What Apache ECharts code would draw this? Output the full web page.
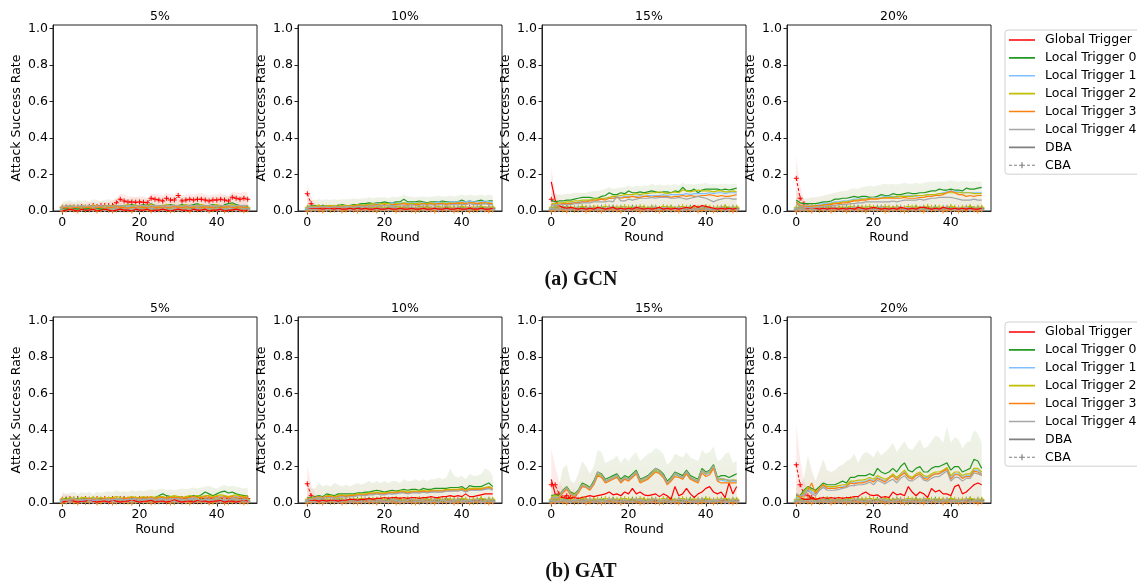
<!DOCTYPE html>
<html>
<head>
<meta charset="utf-8">
<script src="https://cdn.jsdelivr.net/npm/echarts@6/dist/echarts.min.js"></script>
<style>
  html, body { margin: 0; padding: 0; background: #fff; }
  #chart { width: 1137px; height: 586px; }
</style>
</head>
<body>
<div id="chart"></div>
<script>
// tick labels / names
const triggerNames = ['Global Trigger', 'Local Trigger 0', 'Local Trigger 1', 'Local Trigger 2', 'Local Trigger 3', 'Local Trigger 4']
const xTicks = [0, 20, 40]
const yTicks = [0, 0.2, 0.4, 0.6, 0.8, 1.0]
const rateTitles = ['5%', '10%', '15%', '20%']
const captions = ['(a) GCN', '(b) GAT']

// all values below are attack success rate in percent, rounds 0..48

// near-zero CBA local-trigger traces (read as rough jitter at the bottom of each panel)
const z1 = [1,2,1,1,2,1,0.5,1,2,1, 1,1.5,1,2,1,1,2,1,0.5,1, 1,2,1,1,1.5,1,2,1,1,0.5, 1,2,1,1,1.5,1,2,1,1,1, 2,1,1,0.5,1,2,1,1,1.5]
const z2 = [0.5,1,1.5,1,0.5,1,1,2,1,0.5, 1,1,0.5,1.5,1,0.5,1,1,2,1, 0.5,1,1,1.5,0.5,1,1,0.5,1,2, 1,0.5,1,1,0.5,1.5,1,1,0.5,1, 1,1.5,0.5,1,1,0.5,1,2,1]
const z3 = [2,1.5,2,2.5,1.5,2,2,1.5,2.5,2, 1.5,2,2,1.5,2.5,2,1.5,2,2,2.5, 2,1.5,2,2.5,2,1.5,2,2,1.5,2.5, 2,2,1.5,2,2.5,2,1.5,2,2,1.5, 2.5,2,1.5,2,2,2.5,1.5,2,2]
const z4 = [0,0.5,1,0.5,0,1,0.5,0.5,1,0, 0.5,1,0.5,0,0.5,1,0.5,0.5,0,1, 0.5,0.5,1,0,0.5,0.5,1,0.5,0,0.5, 1,0.5,0.5,0,1,0.5,0.5,1,0,0.5, 0.5,1,0,0.5,0.5,1,0.5,0,0.5]
const z5 = [1.5,1,1,2,1.5,1,1.5,1,1,1.5, 2,1,1.5,1,1,2,1.5,1,1,1.5, 1,1,2,1.5,1,1,1.5,2,1,1, 1.5,1,1,2,1,1.5,1,1,1.5,2, 1,1,1.5,1,2,1,1,1.5,1]

// ---- GCN 5% ----
const gcn5CbaG = [2,2,2,2,2,2.5,2,2.5,3,2.5, 3,3,3,3,4.5,6.5,5.5,5,5,4.8, 5,4.8,4.5,7,6.5,6,5.5,7,6,6, 8.5,5.5,6,6.5,6,6.5,6.5,6,5.5,6, 6,6.5,6,5.5,7.5,7,6.5,7,6.5]
const gcn5Lt0 = [1.5,1,2,1.5,1,2,1,1.5,2,1.5, 1,1.5,2,2.5,3,3,2.5,3,3.5,3, 3,3.5,3,4,3,3,2.5,3,3.5,3, 3,3.5,3,3,3.5,4,3,2.5,3,3.5, 3,2,3.5,4,4.5,3.5,3,2,2.5]
const gcn5Lt1 = [2,2.5,2,2,2.5,2,2.5,2,2,2.5, 2,2,2.5,2,2.5,2.5,2,2.5,2.5,2, 2.5,2.5,2,2.5,2.5,3,2.5,2.5,3,2.5, 2.5,3,2.5,2.5,3,2.5,3,2.5,2.5,3, 2.5,3,2.5,3,2.5,3,2.5,2.5,3]
const gcn5Lt2 = [2.5,2,3,2.5,2,3,2.5,2,3,2.5, 2,3,2.5,3,2.5,2,3,3.5,2.5,3, 3,2.5,3,3.5,3,2.5,3,3.5,3,3, 2.5,3,3.5,3,2.5,3,3.5,3,2.5,3, 3.5,3,2.5,3,3.5,3,2.5,3,3]
const gcn5Lt3 = [1.5,2,1.5,2,2,1.5,2,2,1.5,2, 2,1.5,2,2,2.5,2,2,1.5,2,2, 2.5,2,2,2.5,2,2,2.5,2,2,2.5, 2,2,2.5,2,2,2.5,2,2.5,2,2, 2.5,2,2,2.5,2,2,2.5,2,2]
const gcn5Lt4 = [2.5,2.5,3,2.5,2.5,3,2.5,3,2.5,2.5, 3,2.5,3,2.5,3,3,2.5,3,3,2.5, 3,3,2.5,3,3,3,2.5,3,3,3, 3,2.5,3,3,3,2.5,3,3,3,3, 2.5,3,3,3,2.5,3,3,3,3]
const gcn5Env = [5,5.5,6,5,6,5.5,6,5,6.5,6, 5.5,6,6.5,6,7,6.5,7,6.5,7,7.5, 7,6.5,7,8,7.5,7,8,7.5,7,8, 7.5,8,7.5,7,8,8.5,7.5,8,7.5,8, 8,7.5,8.5,8,9,8.5,8,8.5,8]
const gcn5RedEnv = [4,4,4.5,4,4,4.5,4,5,5,4.5, 5,5,5,5.5,7,9.5,9,8,8,7.5, 8,8,7,9.5,9.5,9,8.5,10,9,9, 11,8.5,9,9.5,9,9.5,10,9,8.5,9, 9,10,9,8.5,10.5,10,10,10.5,10]

// ---- GCN 10% ----
const gcn10CbaG = [9.5,4,1.5,1.5,2,1.5,1,1.5,2,1.5, 1.5,1,1.5,2,1.5,1,1.5,1,2,1.5, 1,1.5,2,1.5,1,2,1.5,1,1.5,1, 1.5,2,1,1.5,1,1.5,2,1,1.5,1, 1.5,1,2,1.5,1,1.5,1,2,1.5]
const gcn10DbaG = [2,1.5,1.5,1.5,1,1.5,1.5,1,1.5,1, 1,1.5,1,1.5,1,1.5,1,1,1.5,1, 1,1.5,1,1,1.5,1,1,1.5,1,1, 1.5,1,1,1.5,1,1,1.5,1,1,1.5, 1,1,1.5,1,1,1.5,1,1,1.5]
const gcn10Lt0 = [2.5,2.5,3,2.5,3,2.5,3,2.5,3,3.5, 3,3,3.5,3.5,4,4,4.5,4,4.5,4.5, 5,4.5,4.5,5,5,6.5,5,5,5,5.5, 5,4.5,5,5,5,5.5,5,5,5,5, 6,5,5.5,5,5.5,6,5,5.5,5.5]
const gcn10Lt1 = [2,2.5,2,2.5,2,2.5,2,2.5,2.5,3, 2.5,3,3,3,3,3.5,3.5,3.5,4,4, 4,4,4.5,4,4.5,4.5,4.5,4,4.5,4.5, 4.5,4,4.5,4.5,5,4.5,4.5,5,5,5, 5,5,5.5,5,5,5,5.5,5,5]
const gcn10Lt2 = [2.5,2,2.5,3,2.5,2.5,3,3,2.5,3, 3,3,3,3.5,3,3.5,3.5,4,3.5,4, 4,4,3.5,4,4,4.5,4,4,4,4.5, 4,4,4.5,4,4,4.5,4,4.5,4,4, 4.5,4,4.5,4.5,4,4.5,4,4.5,4]
const gcn10Lt3 = [2,2,2,2.5,2,2,2.5,2,2.5,2, 2.5,2.5,2.5,3,2.5,3,3,3,3.5,3, 3.5,3,3.5,3.5,3.5,4,3.5,3.5,3.5,3.5, 4,3.5,4,3.5,4,4,3.5,4,4,4.5, 4.5,4,4.5,4.5,4,4.5,4.5,4,4]
const gcn10Lt4 = [2,2,2,2,2.5,2,2,2.5,2,2, 2.5,2.5,2,2.5,2.5,2.5,3,2.5,3,3, 3,3,3,3,3.5,3,3,3.5,3,3, 3.5,3,3.5,3,3.5,3.5,3,3.5,3.5,3.5, 3.5,3.5,4,3.5,3.5,3.5,4,3.5,3.5]
const gcn10Env = [7,6,6,6.5,6,6.5,6,6.5,6,6.5, 6.5,6.5,7,6.5,7,7,7.5,7,7.5,7.5, 7.5,7,8,7.5,8,9,8,8,7.5,8, 8,7.5,8,8,8.5,8,8,8.5,8,8.5, 9,8.5,9,8.5,8.5,9,8.5,9,8.5]
const gcn10RedEnv = [15,8,4,3]

// ---- GCN 15% ----
const gcn15CbaG = [6.5,3,2,1.5,2,1.5,1,1.5,1,1.5, 1,1.5,1,1.5,1,1,1.5,1,1.5,1, 1,1.5,1,1,1.5,1,1,1.5,1,1, 1.5,1,1,1.5,1,1,1.5,1,1,1.5, 1,1,1.5,1,1,1.5,1,1,1.5]
const gcn15DbaG = [16,6,3,2,1.5,2,1.5,1,1.5,1, 1.5,1,2,1.5,1,1.5,2,1,1.5,1, 1.5,1,2,1.5,1,1.5,1,1.5,2,1, 1.5,1,1.5,1,1.5,2,1.5,3,2,3, 2.5,2,1.5,1,1.5,1,1.5,1,1.5]
const gcn15Lt0 = [6,5,5.5,5.5,6,6,6.5,7,7.5,7.5, 7.5,7,7,8,8.5,10,9,9,10,9.5, 11,10,10,10.5,10,10.5,11,10.5,10,10.5, 10.5,10,11,10.5,13,11,11,12,10,11.5, 12,12,12,12,11.5,12,11.5,12,12.5]
const gcn15Lt1 = [3,3.5,3.5,4,4,4.5,4.5,5,5,5.5, 6,6,6,6.5,7,7,7,7.5,7.5,8, 8,8,8,8.5,8,8.5,8.5,8.5,8.5,9, 8.5,9,9,9,9,9.5,9,9.5,9.5,9.5, 9.5,10,9.5,10,10,9.5,10,10,10]
const gcn15Lt2 = [4,4,4.5,4.5,5,5,5.5,5.5,6,6, 6,6.5,6.5,7,7,7.5,8,8,8.5,9, 9,9,9.5,9,9.5,9.5,10,10,10.5,10, 9.5,10,10.5,10,11.5,11,10.5,11,11.5,11, 11,11,10.5,11,11,10.5,10.5,11,10.5]
const gcn15Lt3 = [3.5,3,3.5,4,4,4,4.5,4.5,5,5, 5.5,5.5,6,6.5,6,7,7,7.5,7,7.5, 7.5,8,7.5,7.5,8,8,7.5,8,8,8, 8,7.5,8,8,8.5,8,8.5,8,8,8.5, 8.5,9,8.5,8,8.5,8,8,8.5,9]
const gcn15Lt4 = [3,3,3.5,3.5,3.5,3.5,4,4,4.5,4.5, 4.5,5,5,5,5,5.5,5,8,5.5,5.5, 6.5,6,6.5,7,7,7,7.5,7,7.5,7.5, 7.5,7,7,7.5,7,6.5,7,7.5,8,7.5, 7,6,5,6,6.5,7,7,6.5,6.5]
const gcn15Env = [10,9,9,9,9.5,9.5,10,10,10,10, 10.5,11,11,11.5,12,13,12,12.5,13,13, 14,13,14,13.5,14,14,15,14,14.5,14, 14.5,14,15,14,15.5,14.5,15,14.5,15,15, 15.5,14.5,15,14.5,15,15,14.5,15,15]
const gcn15RedEnv = [24,10,5,3]

// ---- GCN 20% ----
const gcn20CbaG = [18,7,4,3,2,1.5,2,1.5,1,1.5, 1,1.5,1,1.5,1,1.5,1,1.5,1,1, 1.5,1,1.5,1,1,1.5,1,1,1.5,1, 1,1.5,1,1,2,1,1.5,1,1,1.5, 1,1,1.5,1,1,1.5,1,1,1.5]
const gcn20DbaG = [5,3,2,1.5,2,1.5,1,1.5,1,1.5, 1.5,1,1.5,1,1.5,1,2,1.5,1,1.5, 2,1.5,1,1.5,1,1.5,1,2,1.5,1, 1.5,1,2,2,1.5,1,1.5,1,2,1.5, 1,1.5,1,1.5,1,1.5,1,1,1.5]
const gcn20Lt0 = [6,4.5,4,4,4,4,4.5,5,5,5.5, 6.5,6.5,7,7,7.5,8,7.5,8,8,7.5, 7.5,8,9,8.5,8.5,9.5,9,9,9.5,10, 9.5,9.5,10,10,10.5,11,11,12,11.5,11.5, 12,11.5,11.5,11,12.5,12,12,12.5,13]
const gcn20Lt1 = [5,3,3,3,3,3,3.5,4,4,4.5, 5,5,5.5,5.5,6,6.5,6.5,7,7,7, 7.5,7,7.5,8,8,8,7.5,8,8,8.5, 8.5,8,8.5,8.5,9,9,9,9.5,10,10.5, 11,10.5,10.5,10,10,10,10,10,10]
const gcn20Lt2 = [5,3,2.5,2.5,2.5,3,3,3.5,3.5,4, 4.5,4.5,5,5,5.5,6,6,6.5,6.5,7, 7,7,7,7.5,7.5,7.5,8,8,8,8, 8,8.5,8.5,8.5,9,9,9,9.5,9.5,10, 10,10,10,10,10,10,9.5,9.5,9.5]
const gcn20Lt3 = [4.5,3,2.5,2.5,2.5,3,3,3,3.5,3.5, 4,4,4.5,4.5,5,5.5,5.5,6,6,6.5, 6.5,6.5,7,7,7,7,7,7,7.5,7, 7,7,7.5,7.5,8,8,8.5,8.5,9,10, 11,10,9,9,8,8.5,8,8.5,8.5]
const gcn20Lt4 = [4,2.5,2,2,2,2,2.5,2.5,3,3, 3,3.5,3.5,3.5,4,4,4.5,4.5,5,5, 5,5,5,5,5,5.5,5,5.5,6,6, 6,6,6.5,6,6.5,7,7,7.5,7.5,7.5, 7.5,7,6.5,6,6,6,6.5,6,6]
const gcn20Env = [12,8,7,7,7.5,7.5,8,8.5,9,9.5, 10,10.5,11,11,12,12.5,12,13,13.5,14, 13.5,14,14.5,15,14.5,15,14.5,15,15.5,15, 15,15.5,15,15.5,16,16,16,16.5,16,16.5, 17,16.5,16,16.5,16.5,16,16.5,16,16]
const gcn20RedEnv = [30,14,6,4]

// ---- GAT 5% ----
const gat5CbaG = [2,2,2.5,2,2.5,2,2.5,2,2,2.5, 2,2.5,2,2.5,2,2.5,2.5,2,2.5,2, 2.5,2,2.5,2.5,2,2.5,2.5,3,2.5,2.5, 2,2.5,2.5,2,2.5,3,2.5,2,2.5,2.5, 2,2.5,3,2.5,2,2.5,2.5,2,2.5]
const gat5Lt0 = [2,2.5,2,2,2.5,2,2.5,2,2.5,2, 2.5,2,2.5,2.5,2,2.5,2,2.5,2.5,3, 2.5,3,2.5,3,3,4,5,4,3.5,3, 3.5,3,3,3.5,4,3.5,4.5,6,5,4, 5,6,6.5,5.5,6,5,4.5,4,4]
const gat5Lt1 = [1.5,2,1.5,2,2,1.5,2,2,1.5,2, 2,2,2.5,2,2,2.5,2,2.5,2,2.5, 2.5,2,2.5,2.5,3,2.5,2.5,3,2.5,3, 2.5,3,3,2.5,3,3,3.5,3,3,3.5, 3,3.5,3,3.5,3,3.5,3,3.5,3]
const gat5Lt2 = [2.5,2,3,2.5,2,3,3,2.5,3,2.5, 3,2.5,3,3,3.5,3,2.5,3,3.5,3, 3,3.5,3,3.5,3,3.5,3.5,3,3.5,4, 3.5,3,3.5,4,3.5,4,3.5,4,4,3.5, 4,4.5,4,3.5,4,4.5,4,3.5,4]
const gat5Lt3 = [2,1.5,2,2,1.5,2,2,2.5,2,2, 2,2.5,2,2.5,2.5,2,2.5,2.5,3,2.5, 2.5,3,2.5,3,2.5,3,3,2.5,3,3, 3,2.5,3,3,3.5,3,3,3.5,3,3, 3.5,3,3.5,3,3.5,3,3.5,3,3]
const gat5Env = [6,5,5.5,6,5,6,5.5,6,5,6, 5.5,6,6.5,6,7,6,6.5,6,7,6.5, 7,6.5,7,7.5,7,7.5,8,7,7.5,7, 7.5,8,7.5,8,8.5,8,8.5,9,9.5,8.5, 8,9,10,9,9.5,9,8.5,8,8.5]
const gat5RedEnv = [5,4.5,4]

// ---- GAT 10% ----
const gat10CbaG = [10.5,4,2,1.5,2,1.5,1,1.5,2,1, 1.5,1,1.5,2,1,1.5,1,1.5,1,1.5, 1,1.5,1,2,1.5,1,1.5,1,1.5,1, 1.5,1,1.5,1,1.5,1,2,1.5,1,1.5, 1,1.5,1,1.5,1,1.5,1,1.5,1]
const gat10DbaG = [2,1.5,1.5,1,1.5,1,1.5,1.5,1,1.5, 1.5,2,2,1.5,2,2,2.5,2,2.5,2.5, 3,2.5,3,3,2.5,3,2.5,3,3,2.5, 3,3,3.5,3,3,3.5,3.5,4,3.5,4, 3.5,5,3.5,3.5,4,4.5,5,5,5]
const gat10Lt0 = [3,3,3.5,4,3.5,5,4.5,4,5,5, 5,5,5,5.5,5.5,6,6,6.5,7,6.5, 6,6.5,7,6.5,7,7.5,7,7.5,7.5,7, 8,7.5,7.5,8,8,8,8,8.5,8.5,8.5, 9,7.5,9.5,9,9,9,10,11,9]
const gat10Lt1 = [2.5,2.5,3,3,3,3.5,3.5,3,3.5,3.5, 3.5,4,4,4,4.5,4.5,5,5,5.5,5, 5,5.5,5,5.5,5.5,6,5.5,6,6,5.5, 6,6,6,6.5,6,6.5,6.5,6.5,7,7, 7,6,7,7,7,7.5,7.5,8,7.5]
const gat10Lt2 = [2.5,2.5,3,3.5,3,4,4,3.5,4,4.5, 4,4.5,4.5,5,5,5,5.5,5.5,6,5.5, 5.5,6,6,6,6.5,6.5,6,6.5,6.5,6.5, 7,6.5,7,7,7,7,7.5,7.5,7.5,7.5, 8,7,8,8,8,8,8.5,9,8]
const gat10Lt3 = [2.5,2,3,3.5,3,3.5,3.5,3,3.5,4, 3.5,4,4,4.5,4.5,4.5,5,5,5.5,5, 5,5.5,5.5,5.5,6,6,5.5,6,6,6, 6.5,6,6.5,6.5,6.5,6.5,7,7,7,7, 7.5,6.5,7.5,7.5,7.5,7.5,8,8.5,7.5]
const gat10Lt4 = [2,2,2.5,3,2.5,3,3,2.5,3,3.5, 3,3.5,3.5,4,4,4,4.5,4.5,5,4.5, 4.5,5,5,5,5.5,5.5,5,5.5,5.5,5.5, 6,5.5,6,6,6,6,6.5,6.5,6.5,6.5, 7,6,7,7,7,7,7.5,8,7]
const gat10Env = [11,8,8,11,9,10,9,11,10,9, 10,9,10,11,10,11,12,11,12,11, 12,11,12,12,11,13,12,12,13,12, 13,12,13,13,14,13,14,19,15,14, 15,13,16,15,15,16,19,18,15]
const gat10RedEnv = [20,10,5,3]

// ---- GAT 15% ----
const gat15CbaG = [10,10,5,3,4,3,4,1.5,1,1.5, 1,1.5,1,1.5,1,1,1.5,1,1.5,1, 1,1.5,1,1,1.5,1,1,1.5,1,1, 1.5,1,1,1.5,1,1,1.5,1,1,1.5, 1,1,1.5,1,1,1.5,1,1,1.5]
const gat15DbaG = [13,5,4,3,2.5,2.5,3,2.5,3,3.5, 4,3.5,4,4.5,5,6,4.5,5,4,6, 5,8,5,6,4.5,4,4.5,5,3.5,5, 4,2,9,4,5,8,5,3,5,6, 8,9,6,5,6,3,11,5,9]
const gat15Lt0 = [4,4.5,4,7,9,6,5,7,11,10, 8.5,12,17,16,13,14,15,16,13,15, 14,16,18,13,14,15,17,19,18,16, 12,14,17,16,15,18,15,14,13,19, 17,18,21,14,15,15,14,15,16]
const gat15Lt1 = [3,3.5,3,6,8,5,4,6,9.5,9, 7.5,10.5,15.5,14.5,11.5,12.5,13.5,14.5,11.5,13.5, 12.5,14.5,16.5,11.5,12.5,13.5,15.5,17.5,16.5,14.5, 10.5,12.5,15.5,14.5,13.5,16.5,13.5,12.5,11.5,17.5, 15.5,16.5,19.5,12.5,12.5,12,12,12,12]
const gat15Lt2 = [3.5,4,3.5,6.5,8.5,5.5,4.5,6.5,10,9.5, 8,11,16,15,12,13,14,15,12,14, 13,15,17,12,13,14,16,18,17,15, 11,13,16,15,14,17,14,13,12,18, 16,17,20,13,13,13,12,12.5,12.5]
const gat15Lt3 = [2.5,3,2.5,5.5,7.5,4.5,3.5,5.5,9,8.5, 7,10,15,14,11,12,13,14,11,13, 12,14,16,11,12,13,15,17,16,14, 10,12,14.5,14,13,16,13,12,11,16.5, 14.5,15.5,19,12,11,11,11,11,11]
const gat15Lt4 = [3,3,3,6.5,8.5,5,4,6.5,10,9, 8,11,17,15.5,12,13,14,15.5,12,14, 13,15,17,12.5,13.5,14.5,16.5,19,17.5,15, 11,13,16.5,15,14,17.5,14,13,12,18, 16.5,17.5,20.5,13,13.5,13,12.5,12.5,12]
const gat15Env = [12,10,9,19,21,12,11,16,23,20, 16,20,29,28,22,23,24,26,22,25, 23,26,28,23,25,27,28,30,29,27, 21,23,27,26,25,28,25,24,23,29, 27,28,31,23,24,27,28,22,23]
const gat15RedEnv = [30,20,12,8,9,6,8]

// ---- GAT 20% ----
const gat20CbaG = [21,10,5,4,3,2,1.5,2,1.5,1, 1.5,1,1.5,1,1,1.5,1,1.5,1,1, 1.5,1,1.5,1,1,1.5,1,1,1.5,1, 1,1.5,1,1,1.5,1,1,1.5,1,1, 1.5,1,1.5,1,1,1.5,1,1,1.5]
const gat20DbaG = [5,3,2,2,2.5,2,2.5,3,2.5,3, 2.5,3,2.5,3,3,3.5,3.5,5,6,4.5, 4,4.5,3,3.5,3,6,4.5,5,4,9, 6,4,6,5,3,8,6,7,5,5, 4,9,10,5,6,8,10,11,10]
const gat20Lt0 = [4,4,7,9,8,7,9,11,10,10, 10,11,12,11,14,14,15,15,15,16, 15,19,17,16,17,19,17,20,22,18, 17,19,20,17,17,19,20,20,21,22, 18,20,20,17,18,19,24,23,19]
const gat20Lt1 = [3,3,5,8,6,5,7,9,8,8, 8,8.5,9,9.5,11,11,11.5,11.5,12,13, 12,14,13,12,14,15,13,15,17,14, 13.5,15,16,14,14,15,16,16,17,19, 14,16,16,14,15,15,18,18,16]
const gat20Lt2 = [3.5,3.5,6,8.5,7,6,8,10,9,9, 9,9.5,10,10,12,12,12.5,12.5,13,14, 13,15,14,13,14,16,14,16,18,15, 14,16,17,15,14.5,16,17,17,18,19.5, 15,17,17,15,16,16,19,19,17]
const gat20Lt3 = [5,3,4,7,11,5,8,10,8,8, 8,8.5,8.5,9,11,10.5,11,11,11.5,12.5, 11.5,13.5,12.5,11.5,13.5,15,12.5,15,16.5,14, 13,15,16,13.5,13,15,16,16,17.5,18.5, 13,15.5,15.5,13.5,14.5,14.5,17.5,17,15.5]
const gat20Lt4 = [5,4,4,7,5,4,7,8.5,7,7, 7,7.5,8,8.5,9.5,9.5,10,10,10.5,11.5, 10,12.5,11.5,10.5,12,13,11,13.5,15,12.5, 12,13.5,15,12.5,12,13.5,14.5,14.5,16,17.5, 12,14,14,12,13.5,13.5,16.5,16,15]
const gat20Env = [12,9,14,26,18,12,18,24,18,17, 18,20,21,23,24,27,22,26,28,27, 25,29,26,28,30,33,28,31,34,30, 29,32,35,30,31,34,37,36,33,42, 33,36,35,30,33,34,40,38,33]
const gat20RedEnv = [43,24,12,8,6,5]

// panels, row by row
const panels = [
  {dba: [z4, gcn5Lt0, gcn5Lt1, gcn5Lt2, gcn5Lt3, gcn5Lt4], cbaG: gcn5CbaG, env: gcn5Env, redEnv: gcn5RedEnv},
  {dba: [gcn10DbaG, gcn10Lt0, gcn10Lt1, gcn10Lt2, gcn10Lt3, gcn10Lt4], cbaG: gcn10CbaG, env: gcn10Env, redEnv: gcn10RedEnv},
  {dba: [gcn15DbaG, gcn15Lt0, gcn15Lt1, gcn15Lt2, gcn15Lt3, gcn15Lt4], cbaG: gcn15CbaG, env: gcn15Env, redEnv: gcn15RedEnv},
  {dba: [gcn20DbaG, gcn20Lt0, gcn20Lt1, gcn20Lt2, gcn20Lt3, gcn20Lt4], cbaG: gcn20CbaG, env: gcn20Env, redEnv: gcn20RedEnv},
  {dba: [z2, gat5Lt0, gat5Lt1, gat5Lt2, gat5Lt3, z3], cbaG: gat5CbaG, env: gat5Env, redEnv: gat5RedEnv},
  {dba: [gat10DbaG, gat10Lt0, gat10Lt1, gat10Lt2, gat10Lt3, gat10Lt4], cbaG: gat10CbaG, env: gat10Env, redEnv: gat10RedEnv},
  {dba: [gat15DbaG, gat15Lt0, gat15Lt1, gat15Lt2, gat15Lt3, gat15Lt4], cbaG: gat15CbaG, env: gat15Env, redEnv: gat15RedEnv},
  {dba: [gat20DbaG, gat20Lt0, gat20Lt1, gat20Lt2, gat20Lt3, gat20Lt4], cbaG: gat20CbaG, env: gat20Env, redEnv: gat20RedEnv},
]
const cbaLocals = [z1, z2, z3, z4, z5]

// styling
const colors = ['#ff0000', '#229922', '#7fbfff', '#bfbf00', '#ff7f0e', '#a6a6a6']
const colLeft = [53, 298, 542, 787]
const rowTop = [25, 317]
const gridW = 204
const gridH = 186
const font = 'DejaVu Sans'
const plusPath = 'path://M4,0H6V4H10V6H6V10H4V6H0V4H4Z'
// legend icons drawn in a 26x7 box (tiny corner dots keep the box size)
const iconSolid = 'path://M0,0h0.01v0.01h-0.01Z M0,2.7H26V4.3H0Z M25.99,6.99h0.01v0.01h-0.01Z'
const iconDashPlus = 'path://M0,0h0.01v0.01h-0.01Z M0,2.9H3V4.1H0Z M5,2.9H8V4.1H5Z M10,2.9H16V4.1H10Z M12.4,0.5H13.6V6.5H12.4Z M18,2.9H21V4.1H18Z M23,2.9H26V4.1H23Z M25.99,6.99h0.01v0.01h-0.01Z'

const toPts = arr => arr.map((v, i) => [i, v / 100])

const chart = echarts.init(document.getElementById('chart'))

const grid = [], xAxis = [], yAxis = [], series = [], title = []

panels.forEach((p, k) => {
  const row = Math.floor(k / 4), col = k % 4
  grid.push({
    left: colLeft[col], top: rowTop[row], width: gridW, height: gridH,
    show: true, borderColor: '#222', borderWidth: 1, backgroundColor: 'transparent',
  })
  title.push({
    text: rateTitles[col], left: colLeft[col] + gridW / 2, top: rowTop[row] - 20, textAlign: 'center',
    textStyle: {fontFamily: font, fontSize: 12.5, fontWeight: 'normal', color: '#000'},
  })
  xAxis.push({
    type: 'value', gridIndex: k, min: -2.4, max: 50.4,
    axisLine: {show: true, onZero: false, lineStyle: {color: '#222', width: 1}},
    axisTick: {show: true, length: 3.5, customValues: xTicks, lineStyle: {color: '#222'}},
    axisLabel: {customValues: xTicks, color: '#000', fontFamily: font, fontSize: 12.5, margin: 5},
    splitLine: {show: false},
    name: 'Round', nameLocation: 'middle', nameGap: 20,
    nameTextStyle: {color: '#000', fontFamily: font, fontSize: 12.5},
  })
  yAxis.push({
    type: 'value', gridIndex: k, min: 0, max: 1.02,
    axisLine: {show: true, onZero: false, lineStyle: {color: '#222', width: 1}},
    axisTick: {show: true, length: 3.5, customValues: yTicks, lineStyle: {color: '#222'}},
    axisLabel: {customValues: yTicks, color: '#000', fontFamily: font, fontSize: 12.5, margin: 5,
      formatter: v => v.toFixed(1)},
    splitLine: {show: false},
    name: 'Attack Success Rate', nameLocation: 'middle', nameGap: 30,
    nameTextStyle: {color: '#000', fontFamily: font, fontSize: 12.5},
  })

  // shaded spread
  series.push({
    type: 'line', xAxisIndex: k, yAxisIndex: k, data: toPts(p.env), symbol: 'none', silent: true,
    lineStyle: {width: 0}, z: 1,
    areaStyle: {
      color: new echarts.graphic.LinearGradient(0, 0, 0, 1, [
        {offset: 0, color: 'rgba(205,225,190,0.5)'},
        {offset: 1, color: 'rgba(210,195,160,0.5)'},
      ]),
    },
  })
  series.push({
    type: 'line', xAxisIndex: k, yAxisIndex: k, data: toPts(p.redEnv), symbol: 'none', silent: true,
    lineStyle: {width: 0}, z: 1, areaStyle: {color: 'rgba(255,170,170,0.35)'},
  })

  // CBA runs: dashed + markers
  const cba = [p.cbaG, ...cbaLocals]
  cba.forEach((arr, i) => {
    series.push({
      name: triggerNames[i] + ' (CBA)', type: 'line', xAxisIndex: k, yAxisIndex: k, data: toPts(arr),
      symbol: plusPath, symbolSize: 5, z: 3,
      itemStyle: {color: colors[i]},
      lineStyle: {color: colors[i], width: 1, type: [3, 2]},
    })
  })

  // DBA runs: solid
  p.dba.forEach((arr, i) => {
    series.push({
      name: triggerNames[i], type: 'line', xAxisIndex: k, yAxisIndex: k, data: toPts(arr),
      symbol: 'none', z: 4,
      itemStyle: {color: colors[i]},
      lineStyle: {color: colors[i], width: 1.2},
    })
  })
})

// legend-only style entries
series.push({name: 'DBA', type: 'line', xAxisIndex: 0, yAxisIndex: 0, data: [], symbol: 'none',
  itemStyle: {color: '#808080'}, lineStyle: {color: '#808080', width: 1.2}})
series.push({name: 'CBA', type: 'line', xAxisIndex: 0, yAxisIndex: 0, data: [], symbol: plusPath, symbolSize: 6,
  itemStyle: {color: '#808080'}, lineStyle: {color: '#808080', width: 1, type: [3, 2]}})

captions.forEach((c, r) => {
  title.push({
    text: c, left: 576, top: r === 0 ? 265 : 557, textAlign: 'center',
    textStyle: {fontFamily: 'Liberation Serif', fontSize: 20, fontWeight: 'bold', color: '#111'},
  })
})

const legendNames = [...triggerNames, 'DBA', 'CBA'].map(n => ({name: n, icon: n === 'CBA' ? iconDashPlus : iconSolid}))
const legendBase = {
  orient: 'vertical', left: 1005, data: legendNames,
  itemWidth: 26, itemHeight: 7, itemGap: 0,
  backgroundColor: '#fff', borderColor: '#d0d0d0', borderWidth: 1, borderRadius: 3,
  padding: [1, 30, 0, 4],
  textStyle: {fontFamily: font, fontSize: 12.5, color: '#000', lineHeight: 17.9, padding: [0, 0, 0, 5]},
}

const option = {
  animation: false,
  backgroundColor: '#fff',
  textStyle: {fontFamily: font},
  title,
  legend: [
    Object.assign({top: 30}, legendBase),
    Object.assign({top: 322}, legendBase),
  ],
  grid,
  xAxis,
  yAxis,
  series,
}

chart.setOption(option)
</script>
</body>
</html>
